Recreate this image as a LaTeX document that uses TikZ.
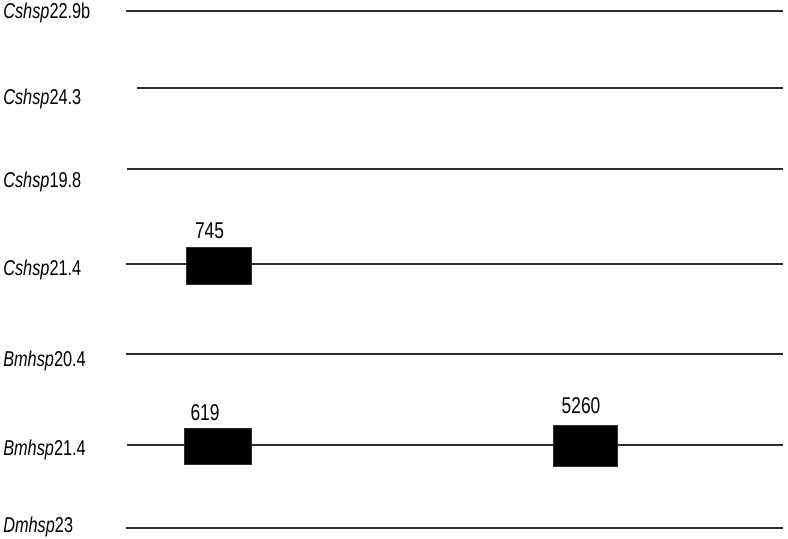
\documentclass[tikz,border=0pt]{standalone}
\usepackage{fontspec}
\setmainfont[FakeStretch=0.76]{Liberation Sans}
\usepackage{tikz}
\definecolor{bg}{HTML}{FFFFFF}
\definecolor{gene}{HTML}{2E2E2E}
\definecolor{ink}{HTML}{000000}
\tikzset{
  gene/.style={draw=gene, line width=1.2pt},
  intr/.style={draw=gene, fill=ink, line width=0.5pt, inner sep=0pt},
  lab/.style={text=ink, anchor=base west, inner sep=0pt, font=\fontsize{15.5}{17}\selectfont},
  num/.style={text=ink, anchor=base, inner sep=0pt, font=\fontsize{16.5}{18}\selectfont}
}
\begin{document}
\begin{tikzpicture}[x=0.01in, y=-0.01in]
  \useasboundingbox[fill=bg] (0,0) rectangle (788,539);
  % gene names
  \node[lab] (n1) at (3,19)  {\textit{Cshsp}22.9b};
  \node[lab] (n2) at (3,104) {\textit{Cshsp}24.3};
  \node[lab] (n3) at (3,187) {\textit{Cshsp}19.8};
  \node[lab] (n4) at (3,275) {\textit{Cshsp}21.4};
  \node[lab] (n5) at (3,366) {\textit{Bmhsp}20.4};
  \node[lab] (n6) at (3,455) {\textit{Bmhsp}21.4};
  \node[lab] (n7) at (3,532) {\textit{Dmhsp}23};
  % gene lines
  \coordinate (a1) at (126,11);  \coordinate (b1) at (783,11);
  \coordinate (a2) at (137,88);  \coordinate (b2) at (783,88);
  \coordinate (a3) at (127,169); \coordinate (b3) at (783,169);
  \coordinate (a4) at (126,264); \coordinate (b4) at (783,264);
  \coordinate (a5) at (126,354); \coordinate (b5) at (783,354);
  \coordinate (a6) at (127,445); \coordinate (b6) at (783,445);
  \coordinate (a7) at (126,528); \coordinate (b7) at (783,528);
  \draw[gene] (a1) -- (b1);
  \draw[gene] (a2) -- (b2);
  \draw[gene] (a3) -- (b3);
  \draw[gene] (a4) -- (b4);
  \draw[gene] (a5) -- (b5);
  \draw[gene] (a6) -- (b6);
  \draw[gene] (a7) -- (b7);
  % introns
  \node[intr, minimum width=0.65in, minimum height=0.37in] (i745) at (218.5,265.5) {};
  \node[intr, minimum width=0.67in, minimum height=0.36in] (i619) at (217.5,446) {};
  \node[intr, minimum width=0.64in, minimum height=0.41in] (i5260) at (585,445.5) {};
  \node[num] (t745) at (209.5,238) {745};
  \node[num] (t619) at (205,420) {619};
  \node[num] (t5260) at (581,413) {5260};
\end{tikzpicture}
\end{document}
